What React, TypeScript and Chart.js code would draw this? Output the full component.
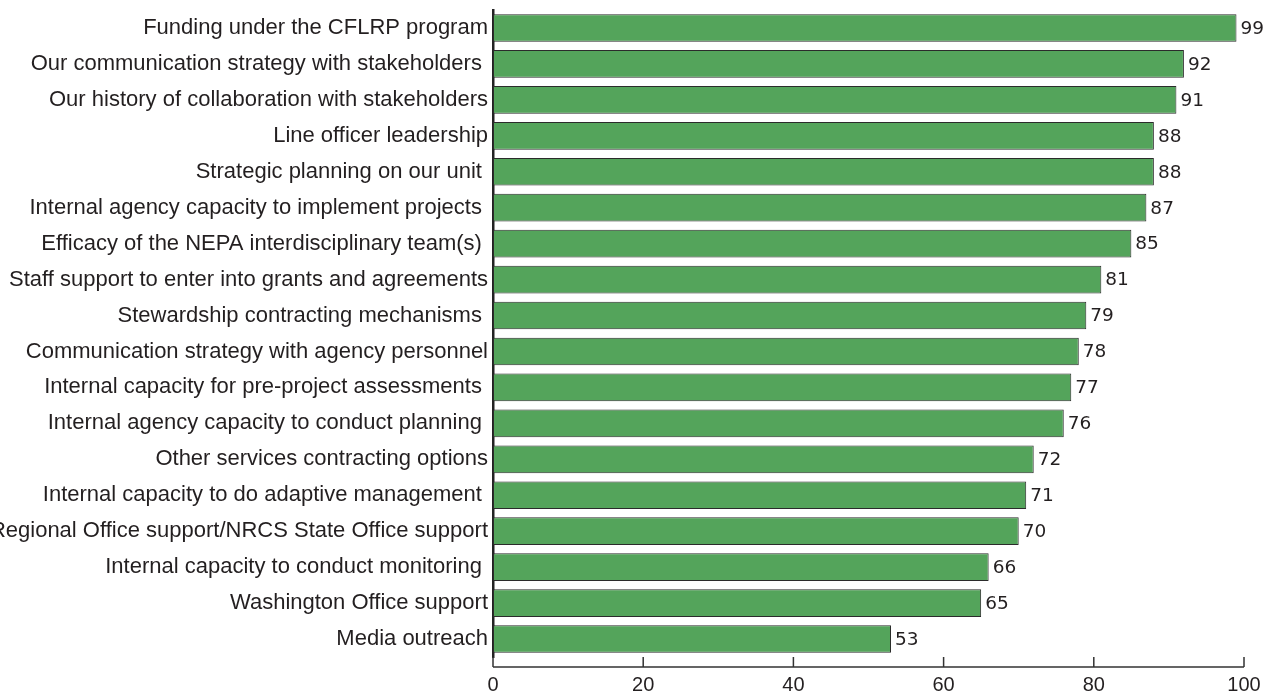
import React, { useEffect, useRef } from "react";
import { Chart, registerables } from "chart.js";

Chart.register(...registerables);

const categories: string[] = [
  "Funding under the CFLRP program",
  "Our communication strategy with stakeholders ",
  "Our history of collaboration with stakeholders",
  "Line officer leadership",
  "Strategic planning on our unit ",
  "Internal agency capacity to implement projects ",
  "Efficacy of the NEPA interdisciplinary team(s) ",
  "Staff support to enter into grants and agreements",
  "Stewardship contracting mechanisms ",
  "Communication strategy with agency personnel",
  "Internal capacity for pre-project assessments ",
  "Internal agency capacity to conduct planning ",
  "Other services contracting options",
  "Internal capacity to do adaptive management ",
  "Regional Office support/NRCS State Office support",
  "Internal capacity to conduct monitoring ",
  "Washington Office support",
  "Media outreach",
];

const values: number[] = [99, 92, 91, 88, 88, 87, 85, 81, 79, 78, 77, 76, 72, 71, 70, 66, 65, 53];

const xTicks: number[] = [0, 20, 40, 60, 80, 100];

const LABEL_FONT = "'Liberation Sans', Arial, sans-serif";

const valueLabels = {
  id: "valueLabels",
  afterDatasetsDraw(chart: any) {
    const ctx = chart.ctx;
    const meta = chart.getDatasetMeta(0);
    ctx.save();
    ctx.font = "18.5px 'DejaVu Sans', sans-serif";
    ctx.fillStyle = "#231f20";
    ctx.textAlign = "left";
    ctx.textBaseline = "middle";
    meta.data.forEach((bar: any, i: number) => {
      ctx.fillText(String(values[i]), bar.x + 4, bar.y + 1);
    });
    ctx.restore();
  },
};

const xAxisLine = {
  id: "xAxisLine",
  afterDraw(chart: any) {
    const ctx = chart.ctx;
    const xs = chart.scales.x;
    const yLine = chart.chartArea.bottom + 10;
    ctx.save();
    ctx.strokeStyle = "#333";
    ctx.lineWidth = 1.5;
    ctx.beginPath();
    ctx.moveTo(xs.getPixelForValue(xTicks[0]), yLine);
    ctx.lineTo(xs.getPixelForValue(xTicks[xTicks.length - 1]), yLine);
    xTicks.forEach((t) => {
      const px = xs.getPixelForValue(t);
      ctx.moveTo(px, yLine);
      ctx.lineTo(px, yLine - 10);
    });
    ctx.stroke();
    ctx.restore();
  },
};

export default function App() {
  const ref = useRef<HTMLCanvasElement | null>(null);

  useEffect(() => {
    document.body.style.margin = "0";
    if (!ref.current) return;
    const chart = new Chart(ref.current, {
      type: "bar",
      data: {
        labels: categories,
        datasets: [
          {
            data: values,
            backgroundColor: "#54a45b",
            borderColor: "#2b2b2b",
            borderWidth: 1,
            borderSkipped: false,
            categoryPercentage: 1,
            barPercentage: 0.77,
          },
        ],
      },
      options: {
        indexAxis: "y",
        responsive: false,
        animation: false,
        maintainAspectRatio: false,
        layout: { padding: { top: 10, right: 21, left: 0, bottom: 0 } },
        plugins: {
          legend: { display: false },
          tooltip: { enabled: false },
        },
        scales: {
          x: {
            type: "linear",
            min: 0,
            max: 100,
            grid: { display: false, drawTicks: false },
            border: { display: false },
            afterBuildTicks(scale: any) {
              scale.ticks = xTicks.map((v) => ({ value: v }));
            },
            afterFit(scale: any) {
              scale.height = 36;
              scale.paddingLeft = 0;
              scale.paddingRight = 0;
            },
            ticks: {
              padding: 16,
              color: "#231f20",
              font: { family: LABEL_FONT, size: 20 },
              maxRotation: 0,
            },
          },
          y: {
            type: "category",
            offset: true,
            grid: { display: false, drawTicks: false },
            border: { display: true, color: "#222", width: 2.5 },
            afterFit(scale: any) {
              scale.width = 493;
              scale.paddingTop = 0;
              scale.paddingBottom = 0;
            },
            ticks: {
              padding: 5,
              color: "#231f20",
              autoSkip: false,
              font: { family: LABEL_FONT, size: 22 },
            },
          },
        },
      },
      plugins: [valueLabels, xAxisLine],
    });
    return () => chart.destroy();
  }, []);

  return (
    <div style={{ width: 1265, height: 693 }}>
      <canvas ref={ref} width={1265} height={693} style={{ display: "block" }} />
    </div>
  );
}
